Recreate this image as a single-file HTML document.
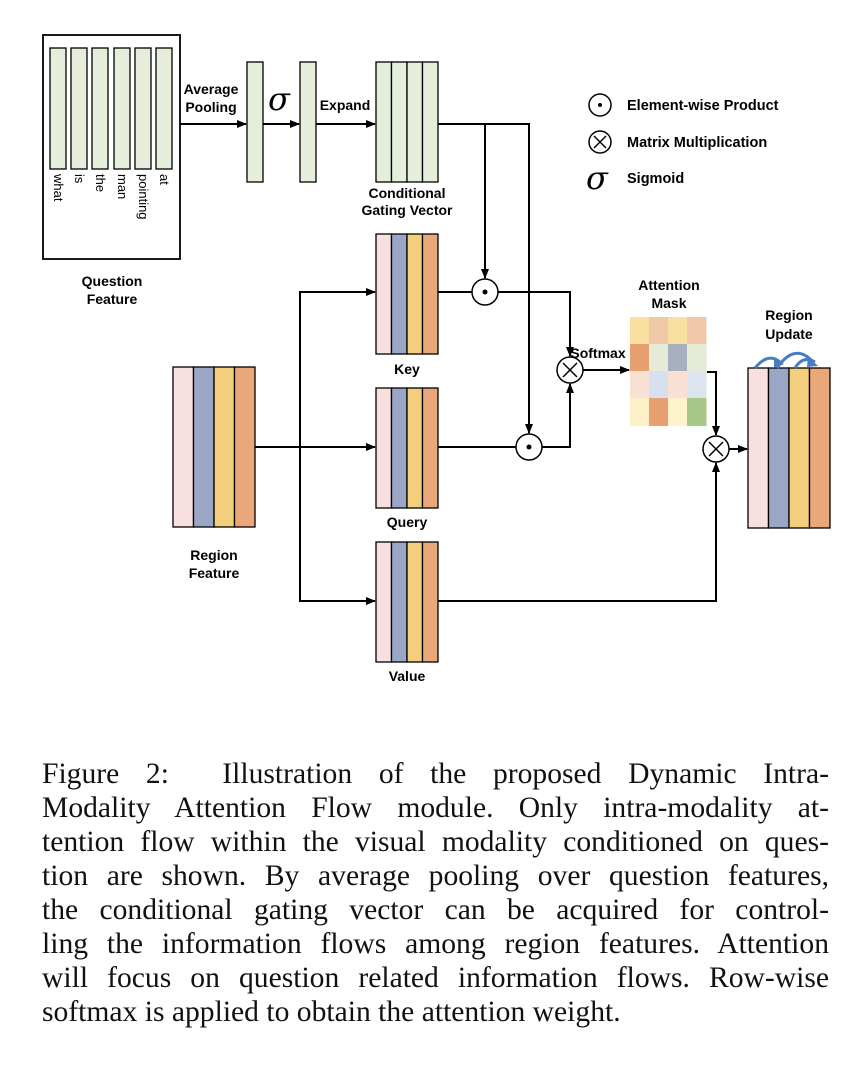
<!DOCTYPE html>
<html><head><meta charset="utf-8"><style>
html,body{margin:0;padding:0;background:#fff;width:868px;height:1088px;overflow:hidden}
svg{position:absolute;left:0;top:0}
.cap{position:absolute;left:42px;width:787px;font-family:"Liberation Serif",serif;font-size:29.6px;line-height:34px;top:757px;color:#111}
.cap div{text-align:justify;text-align-last:justify;white-space:nowrap;height:34px}
.cap div.l{text-align-last:left}
</style></head><body>
<svg width="868" height="740" viewBox="0 0 868 740" font-family="Liberation Sans, sans-serif">
<defs><marker id="a" markerWidth="10" markerHeight="8" refX="9" refY="4" orient="auto" markerUnits="userSpaceOnUse"><path d="M0,0 L10,4 L0,8 z" fill="#000"/></marker></defs>
<g stroke="#000" stroke-width="1.3">
<rect x="43" y="35" width="137" height="224" fill="#fff" stroke-width="1.8"/>
<g fill="#e4eedb">
<rect x="50" y="48" width="16" height="121"/><rect x="71" y="48" width="16" height="121"/><rect x="92" y="48" width="16" height="121"/><rect x="114" y="48" width="16" height="121"/><rect x="135" y="48" width="16" height="121"/><rect x="156" y="48" width="16" height="121"/>
<rect x="247" y="62" width="16" height="120"/><rect x="300" y="62" width="16" height="120"/>
<rect x="376" y="62" width="15.5" height="120"/><rect x="391.5" y="62" width="15.5" height="120"/><rect x="407" y="62" width="15.5" height="120"/><rect x="422.5" y="62" width="15.5" height="120"/>
</g>
<g id="blk">
<rect x="376" y="234" width="15.5" height="120" fill="#f9e0e0"/><rect x="391.5" y="234" width="15.5" height="120" fill="#9ba6c6"/><rect x="407" y="234" width="15.5" height="120" fill="#f3ce7c"/><rect x="422.5" y="234" width="15.5" height="120" fill="#e9a77a"/>
</g>
<use href="#blk" y="154"/><use href="#blk" y="308"/>
<rect x="173" y="367" width="20.5" height="160" fill="#f9e0e0"/><rect x="193.5" y="367" width="20.5" height="160" fill="#9ba6c6"/><rect x="214" y="367" width="20.5" height="160" fill="#f3ce7c"/><rect x="234.5" y="367" width="20.5" height="160" fill="#e9a77a"/>
<rect x="748" y="368" width="20.5" height="160" fill="#f9e0e0"/><rect x="768.5" y="368" width="20.5" height="160" fill="#9ba6c6"/><rect x="789" y="368" width="20.5" height="160" fill="#f3ce7c"/><rect x="809.5" y="368" width="20.5" height="160" fill="#e9a77a"/>
</g>
<g stroke="none">
<rect x="630" y="317" width="19.5" height="27" fill="#f8e0a0"/><rect x="649" y="317" width="19.5" height="27" fill="#f0c8a8"/><rect x="668" y="317" width="19.5" height="27" fill="#f8e0a0"/><rect x="687" y="317" width="19.5" height="27" fill="#f0c8a8"/>
<rect x="630" y="344" width="19.5" height="27" fill="#e8a070"/><rect x="649" y="344" width="19.5" height="27" fill="#e4ecd8"/><rect x="668" y="344" width="19.5" height="27" fill="#a8b0c0"/><rect x="687" y="344" width="19.5" height="27" fill="#e4ecd8"/>
<rect x="630" y="371" width="19.5" height="27" fill="#f8e0d4"/><rect x="649" y="371" width="19.5" height="27" fill="#d8e0f0"/><rect x="668" y="371" width="19.5" height="27" fill="#f8e0d4"/><rect x="687" y="371" width="19.5" height="27" fill="#dce4f0"/>
<rect x="630" y="398" width="19.5" height="28" fill="#fdf0c8"/><rect x="649" y="398" width="19.5" height="28" fill="#e8a070"/><rect x="668" y="398" width="19.5" height="28" fill="#fdf4cc"/><rect x="687" y="398" width="19.5" height="28" fill="#a8c888"/>
</g>
<g stroke="#000" stroke-width="2" fill="none">
<path d="M180,124 H246" marker-end="url(#a)"/><path d="M263,124 H299" marker-end="url(#a)"/><path d="M316,124 H375" marker-end="url(#a)"/>
<path d="M438,124 H529 V433" marker-end="url(#a)"/><path d="M485,124 V278" marker-end="url(#a)"/>
<path d="M438,292 H472"/><path d="M498,292 H570 V356" marker-end="url(#a)"/>
<path d="M438,447 H516"/><path d="M542,447 H570 V384" marker-end="url(#a)"/>
<path d="M583,370 H629" marker-end="url(#a)"/>
<path d="M707,372 H716 V435" marker-end="url(#a)"/>
<path d="M438,601 H716 V463" marker-end="url(#a)"/>
<path d="M729,449 H747" marker-end="url(#a)"/>
<path d="M255,447 H375" marker-end="url(#a)"/>
<path d="M365,292 H300 V601 H365"/>
<path d="M300,292 H375" marker-end="url(#a)"/><path d="M300,601 H375" marker-end="url(#a)"/>
</g>
<g stroke="#4a7cc0" stroke-width="3" fill="none">
<path d="M755,368 Q768,352 780,362"/><path d="M777,368 Q795,342 813,362"/><path d="M795,368 Q803,355 815,362"/>
</g>
<g fill="#4a7cc0"><path d="M774,358 L784,364 L774,368z"/><path d="M808,356 L818,366 L807,367z"/></g>
<g stroke="#000" stroke-width="1.5" fill="#fff">
<circle cx="485" cy="292" r="13"/><circle cx="529" cy="447" r="13"/><circle cx="570" cy="370" r="13"/><circle cx="716" cy="449" r="13"/>
<circle cx="600" cy="105" r="11"/><circle cx="600" cy="142" r="11"/>
<path d="M563,363 L577,377 M577,363 L563,377 M709,442 L723,456 M723,442 L709,456 M594,136 L606,148 M606,136 L594,148" fill="none"/>
</g>
<g fill="#000"><circle cx="485" cy="292" r="2.5"/><circle cx="529" cy="447" r="2.5"/><circle cx="600" cy="105" r="2"/></g>
<g font-size="14" font-weight="bold" text-anchor="middle">
<text x="211" y="94">Average</text><text x="211" y="112">Pooling</text>
<text x="345" y="110">Expand</text>
<text x="407" y="198">Conditional</text><text x="407" y="215">Gating Vector</text>
<text x="112" y="286">Question</text><text x="112" y="304">Feature</text>
<text x="407" y="374">Key</text><text x="407" y="527">Query</text><text x="407" y="681">Value</text>
<text x="214" y="560">Region</text><text x="214" y="578">Feature</text>
<text x="669" y="290">Attention</text><text x="669" y="308">Mask</text>
<text x="789" y="320">Region</text><text x="789" y="339">Update</text>
<text x="598" y="358">Softmax</text>
</g>
<g font-size="14.5" font-weight="bold"><text x="627" y="110">Element-wise Product</text><text x="627" y="147">Matrix Multiplication</text><text x="627" y="183">Sigmoid</text></g>
<g font-family="DejaVu Serif, serif" font-style="italic" font-size="32"><text x="268" y="110">σ</text><text x="586" y="189">σ</text></g>
<g font-size="13">
<text transform="translate(54,174) rotate(90)">what</text><text transform="translate(75,174) rotate(90)">is</text><text transform="translate(96,174) rotate(90)">the</text><text transform="translate(118,174) rotate(90)">man</text><text transform="translate(139,174) rotate(90)">pointing</text><text transform="translate(160,174) rotate(90)">at</text>
</g>
</svg>
<div class="cap">
<div>Figure 2:&nbsp; Illustration of the proposed Dynamic Intra-</div>
<div>Modality Attention Flow module. Only intra-modality at-</div>
<div>tention flow within the visual modality conditioned on ques-</div>
<div>tion are shown. By average pooling over question features,</div>
<div>the conditional gating vector can be acquired for control-</div>
<div>ling the information flows among region features. Attention</div>
<div>will focus on question related information flows. Row-wise</div>
<div class="l">softmax is applied to obtain the attention weight.</div>
</div>
</body></html>
